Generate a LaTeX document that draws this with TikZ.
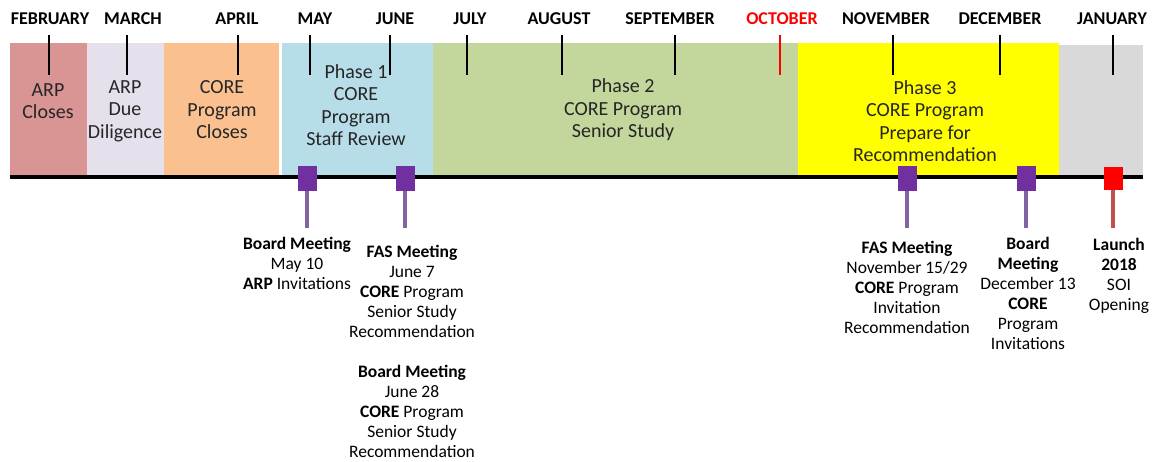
\documentclass[tikz,border=0pt]{standalone}
\usepackage{fontspec}
\setmainfont{Carlito}
\usetikzlibrary{positioning}
\definecolor{arprose}{HTML}{D99594}
\definecolor{duelilac}{HTML}{E5E0EC}
\definecolor{coreorange}{HTML}{FAC090}
\definecolor{phaseblue}{HTML}{B7DDE8}
\definecolor{phasegreen}{HTML}{C3D69B}
\definecolor{phaseyellow}{HTML}{FFFF00}
\definecolor{launchgray}{HTML}{D9D9D9}
\definecolor{bandink}{HTML}{262626}
\definecolor{meetpurple}{HTML}{7030A0}
\definecolor{stempurple}{HTML}{8064A2}
\definecolor{stemred}{HTML}{C0504D}
\newcommand{\band}[4]{\fill[#4] (#1,#3) rectangle (#2,175);}

\begin{document}
\begin{tikzpicture}[x=1pt, y=-1pt,
    mlabel/.style={font=\fontsize{18}{20}\selectfont\bfseries, inner sep=0pt},
    bandtext/.style={align=center, text=bandink, font=\fontsize{20}{22.5}\selectfont, inner sep=0pt},
    marker/.style={fill=#1, minimum width=19pt, minimum height=25pt, inner sep=0pt},
    evtext/.style={align=center, anchor=north, font=\fontsize{17.5}{20}\selectfont, inner sep=0pt},
    stem/.style={line width=4pt, draw=#1}]
    \useasboundingbox (0,0) rectangle (1153,461);
    % coloured periods
    \band{10}{87}{43}{arprose};
    \band{87}{164}{43}{duelilac};
    \band{164}{279}{43}{coreorange};
    \band{282}{433}{43}{phaseblue};
    \band{433}{798}{43}{phasegreen};
    \band{798}{1059}{43}{phaseyellow};
    \band{1059}{1143}{45}{launchgray};
    % months and ticks
    \foreach \name/\lx/\tx/\col in {FEBRUARY/50/49/black, MARCH/133/127/black,
        APRIL/237/238/black, MAY/315/310/black, JUNE/395/390/black,
        JULY/470/467/black, AUGUST/559/562/black, SEPTEMBER/670/675/black,
        OCTOBER/782/780/red, NOVEMBER/886/893/black, DECEMBER/1000/1000/black,
        JANUARY/1112/1113/black}{
        \node[mlabel, text=\col] (m-\name) at (\lx,19) {\name};
        \draw[\col, line width=1.3pt] (\tx,35) -- (\tx,75);
    }
    % texts in the periods
    \node[bandtext] (arp) at (48,101) {ARP\\Closes};
    \node[bandtext] (due) at (125,111) {ARP\\Due\\Diligence};
    \node[bandtext] (core) at (222,110) {CORE\\Program\\Closes};
    \node[bandtext] (ph1) at (356,105) {Phase 1\\CORE\\Program\\Staff Review};
    \node[bandtext] (ph2) at (623,110) {Phase 2\\CORE Program\\Senior Study};
    \node[bandtext] (ph3) at (925,121) {Phase 3\\CORE Program\\Prepare for\\Recommendation};
    % time line
    \draw[line width=4pt] (10,177) -- (1143,177);
    % events
    \node[marker=meetpurple] (mk1) at (307,178) {};
    \node[marker=meetpurple] (mk2) at (405,178) {};
    \node[marker=meetpurple] (mk3) at (907,178) {};
    \node[marker=meetpurple] (mk4) at (1026,178) {};
    \node[marker=red, minimum height=23pt] (mk5) at (1113,178) {};
    \foreach \m/\c in {mk1/stempurple, mk2/stempurple, mk3/stempurple, mk4/stempurple, mk5/stemred}
        \draw[stem=\c] (\m.south) -- (\m.south |- 0,228);
    \node[evtext] (ev1) at (297,237) {\textbf{Board Meeting}\\May 10\\\textbf{ARP} Invitations};
    \node[evtext] (ev2) at (412,245) {\textbf{FAS Meeting}\\June 7\\\textbf{CORE} Program\\Senior Study\\Recommendation};
    \node[evtext, below=27pt of ev2] (ev3) {\textbf{Board Meeting}\\June 28\\\textbf{CORE} Program\\Senior Study\\Recommendation};
    \node[evtext] (ev4) at (907,241) {\textbf{FAS Meeting}\\November 15/29\\\textbf{CORE} Program\\Invitation\\Recommendation};
    \node[evtext] (ev5) at (1028,237) {\textbf{Board}\\\textbf{Meeting}\\December 13\\\textbf{CORE}\\Program\\Invitations};
    \node[evtext] (ev6) at (1119,238) {\textbf{Launch}\\\textbf{2018}\\SOI\\Opening};
\end{tikzpicture}
\end{document}
